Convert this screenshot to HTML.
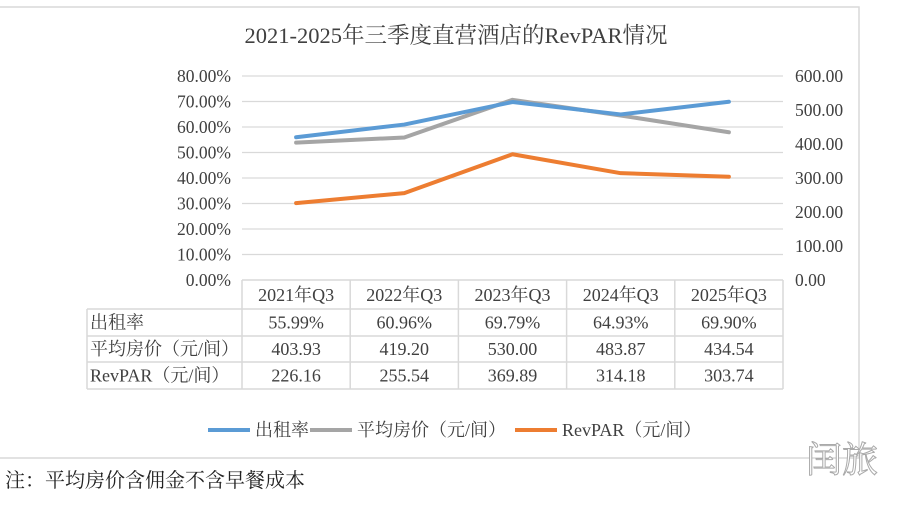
<!DOCTYPE html>
<html><head><meta charset="utf-8"><style>
body{margin:0;background:#fff;width:901px;height:500px;overflow:hidden;font-family:"Liberation Serif","Noto Serif CJK SC",serif;color:#404040}
svg text{font-family:"Liberation Serif","Noto Serif CJK SC",serif}
</style></head><body>
<svg width="901" height="500">
<rect x="-2" y="7" width="861" height="451" fill="#fff" stroke="#d9d9d9" stroke-width="1.5"/>
<text x="456" y="43" font-size="22.5" text-anchor="middle" fill="#404040">2021-2025年三季度直营酒店的RevPAR情况</text>
<g id="grid"></g><g id="series"></g><g id="table"></g>
<g>
<line x1="208" y1="430" x2="250" y2="430" stroke="#5b9bd5" stroke-width="4"/><text x="255" y="436" font-size="18" fill="#404040">出租率</text>
<line x1="310" y1="430" x2="352" y2="430" stroke="#a5a5a5" stroke-width="4"/><text x="357" y="436" font-size="18" fill="#404040">平均房价（元/间）</text>
<line x1="515" y1="430" x2="557" y2="430" stroke="#ed7d31" stroke-width="4"/><text x="562" y="436" font-size="18" fill="#404040">RevPAR（元/间）</text>
</g>
<text x="5" y="487" font-size="20" fill="#222">注：平均房价含佣金不含早餐成本</text>
<text x="806" y="472" font-size="36" fill="#fff" stroke="#aaa" stroke-width="1" font-family="Noto Sans CJK SC,sans-serif">闰旅</text>
</svg>
<script>
const categories=["2021年Q3","2022年Q3","2023年Q3","2024年Q3","2025年Q3"];
const occupancy=[55.99,60.96,69.79,64.93,69.90];
const avgPrice=[403.93,419.20,530.00,483.87,434.54];
const revpar=[226.16,255.54,369.89,314.18,303.74];
const occLabels=["55.99%","60.96%","69.79%","64.93%","69.90%"];
const leftTicks=[0,10,20,30,40,50,60,70,80];
const rightTicks=[0,100,200,300,400,500,600];
const NS="http://www.w3.org/2000/svg";
const X0=242,X1=783,Y0=280,Y1=76;
const bw=(X1-X0)/categories.length;
const xc=i=>X0+bw*(i+0.5);
const yL=v=>Y0-(v/80)*(Y0-Y1);
const yR=v=>Y0-(v/600)*(Y0-Y1);
function mk(t,a,p){const e=document.createElementNS(NS,t);for(const k in a)e.setAttribute(k,a[k]);p.appendChild(e);return e;}
const grid=document.getElementById('grid');
leftTicks.forEach(v=>{
 if(v>0){const l=mk('line',{x1:X0,x2:X1,y1:yL(v),y2:yL(v),stroke:'#d9d9d9','stroke-width':1.2},grid);
 
 }
 const t=mk('text',{x:231,y:yL(v)+6,'font-size':17.5,'text-anchor':'end',fill:'#404040'},grid);t.textContent=v.toFixed(2)+'%';
 
 
});
rightTicks.forEach(v=>{
 const t=mk('text',{x:795,y:yR(v)+6,'font-size':17.5,fill:'#404040'},grid);t.textContent=v.toFixed(2);
 
 
});
const sg=document.getElementById('series');
[[avgPrice,yR,'#a5a5a5','avg-price-line'],[occupancy,yL,'#5b9bd5','occupancy-line'],[revpar,yR,'#ed7d31','revpar-line']].forEach(([d,f,c,n])=>{
 const p=mk('polyline',{points:d.map((v,i)=>xc(i)+','+f(v)).join(' '),fill:'none',stroke:c,'stroke-width':4,'stroke-linecap':'round','stroke-linejoin':'round'},sg);
 
 
});
const tb=document.getElementById('table');
const rows=[280,309,336,362,389];
const lc='#d9d9d9';
mk('line',{x1:X0,x2:X1,y1:280,y2:280,stroke:lc,'stroke-width':1.5},tb);
for(let r=1;r<rows.length;r++)mk('line',{x1:87,x2:X1,y1:rows[r],y2:rows[r],stroke:lc,'stroke-width':1.5},tb);
mk('line',{x1:87,x2:87,y1:309,y2:389,stroke:lc,'stroke-width':1.5},tb);
for(let i=0;i<=categories.length;i++)mk('line',{x1:X0+bw*i,x2:X0+bw*i,y1:280,y2:389,stroke:lc,'stroke-width':1.5},tb);
const rowNames=["出租率","平均房价（元/间）","RevPAR（元/间）"];
const rowVals=[occLabels,avgPrice.map(v=>v.toFixed(2)),revpar.map(v=>v.toFixed(2))];
categories.forEach((c,i)=>{const t=mk('text',{x:xc(i),y:301,'font-size':18,'text-anchor':'middle',fill:'#404040'},tb);t.textContent=c;
 
 });
rowNames.forEach((n,r)=>{
 const cy=(rows[r+1]+rows[r+2])/2+6;
 const t=mk('text',{x:90,y:cy,'font-size':18,fill:'#404040'},tb);t.textContent=n;
 
 
 rowVals[r].forEach((v,i)=>{const c=mk('text',{x:xc(i),y:cy,'font-size':18,'text-anchor':'middle',fill:'#404040'},tb);c.textContent=v;
 
 });
});
</script>
</body></html>
